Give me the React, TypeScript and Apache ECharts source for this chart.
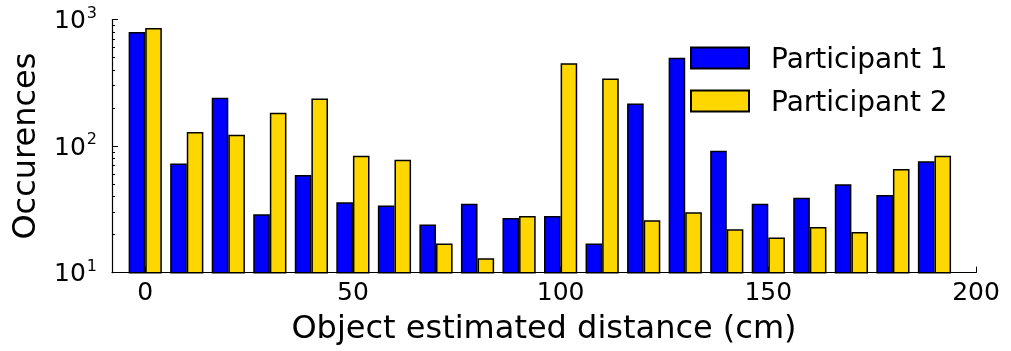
import React, { useEffect, useRef } from "react";
import * as echarts from "echarts";

const distances = [0, 10, 20, 30, 40, 50, 60, 70, 80, 90, 100, 110, 120, 130, 140, 150, 160, 170, 180, 190];
const participant1 = [795, 73, 241, 29, 59, 36, 34, 24, 35, 27, 28, 17, 217, 498, 92, 35, 39, 50, 41, 76];
const participant2 = [855, 129, 123, 183, 238, 84, 78, 17, 13, 28, 452, 342, 26, 30, 22, 19, 23, 21, 66, 84];
const xTicks = [0, 50, 100, 150, 200];
const yMajorTicks = [10, 100, 1000];
const yMinorTicks = [20, 30, 40, 50, 60, 70, 80, 90, 200, 300, 400, 500, 600, 700, 800, 900];

const FONT = "DejaVu Sans";

export default function App() {
  const ref = useRef<HTMLDivElement>(null);
  useEffect(() => {
    if (!ref.current) return;
    const chart = echarts.init(ref.current, null, { renderer: "svg" });
    const barStyle = (color: string) => ({ color, borderColor: "#000", borderWidth: 1.5 });
    chart.setOption({
      animation: false,
      textStyle: { fontFamily: FONT },
      grid: { left: 110, right: 35, top: 19.5, height: 253.2, containLabel: false },
      legend: {
        left: 685,
        top: 39,
        orient: "vertical",
        itemWidth: 58,
        itemHeight: 21,
        itemGap: 15,
        icon: "rect",
        textStyle: { fontFamily: FONT, fontSize: 28, color: "#000", lineHeight: 21, padding: [0, 0, 0, 17] },
        data: ["Participant 1", "Participant 2"],
      },
      xAxis: {
        type: "value",
        min: -8,
        max: 200,
        name: "Object estimated distance (cm)",
        nameLocation: "middle",
        nameGap: 38,
        nameTextStyle: { fontFamily: FONT, fontSize: 32, color: "#000" },
        axisLine: { show: true, onZero: false, lineStyle: { color: "#000", width: 1.2 } },
        axisTick: { show: true, inside: true, length: 6, customValues: xTicks, lineStyle: { color: "#000" } },
        axisLabel: { customValues: xTicks, fontFamily: FONT, fontSize: 25, color: "#000", margin: 6 },
        splitLine: { show: false },
      },
      yAxis: [
        {
          type: "log",
          logBase: 10,
          min: 10,
          max: 1000,
          name: "Occurences",
          nameLocation: "middle",
          nameGap: 72,
          nameTextStyle: { fontFamily: FONT, fontSize: 32, color: "#000" },
          axisLine: { show: true, onZero: false, lineStyle: { color: "#000", width: 1.2 } },
          axisTick: { show: true, inside: true, length: 6, customValues: yMajorTicks, lineStyle: { color: "#000" } },
          axisLabel: {
            customValues: yMajorTicks,
            margin: 15,
            formatter: (v: number) => `{b|10}{s|${Math.round(Math.log10(v))}}`,
            rich: {
              b: { fontFamily: FONT, fontSize: 25, color: "#000" },
              s: { fontFamily: FONT, fontSize: 16, color: "#000", padding: [0, 0, 15, 1] },
            },
          },
          splitLine: { show: false },
        },
        {
          type: "log",
          logBase: 10,
          min: 10,
          max: 1000,
          position: "left",
          offset: 0,
          axisLine: { show: false, onZero: false },
          axisTick: { show: true, inside: true, length: 3, customValues: yMinorTicks, lineStyle: { color: "#000" } },
          axisLabel: { show: false },
          splitLine: { show: false },
        },
      ],
      series: [
        {
          name: "Participant 1",
          type: "bar",
          barWidth: 16.6,
          barGap: "0%",
          clip: true,
          itemStyle: barStyle("#0000ff"),
          data: distances.map((d, i) => [d, participant1[i]]),
        },
        {
          name: "Participant 2",
          type: "bar",
          barWidth: 16.6,
          barGap: "0%",
          clip: true,
          itemStyle: barStyle("#ffd700"),
          data: distances.map((d, i) => [d, participant2[i]]),
        },
      ],
    });
    return () => chart.dispose();
  }, []);
  return <div ref={ref} style={{ position: "fixed", left: 0, top: 0, width: 1011, height: 351 }} />;
}
